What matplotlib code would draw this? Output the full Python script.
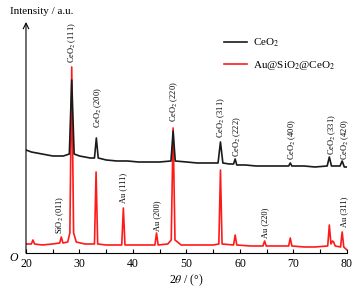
import matplotlib.pyplot as plt
from matplotlib.lines import Line2D

plt.rcParams['font.family'] = 'Liberation Serif'
plt.rcParams['mathtext.fontset'] = 'stix'

# CeO2 trace (offset upward)
ceo2_x = [20, 21, 22, 23, 24, 25, 26, 27, 28.1, 28.55, 29.0, 30, 31, 32, 32.8, 33.15, 33.5,
          35, 37, 39, 41, 43, 45, 47.1, 47.5, 47.9, 50, 52, 54, 55.9, 56.35, 56.8, 58,
          58.8, 59.1, 59.4, 61, 63, 65, 67, 69.1, 69.4, 69.7, 72, 74, 76.3, 76.7, 77.1,
          78.7, 79.1, 79.5, 80]
ceo2_y = [103, 101, 100, 99, 98, 97, 97, 97, 99, 173, 99, 97, 96, 95, 95, 115, 95,
          93, 92, 92, 91, 91, 91, 92, 122, 92, 91, 90, 90, 90, 111, 90, 89,
          89, 94, 88, 88, 87, 87, 87, 87, 90, 87, 87, 86, 87, 96, 87,
          87, 92, 86, 86]

# Au@SiO2@CeO2 trace
au_x = [20, 21.0, 21.3, 21.6, 23, 25, 26.3, 26.6, 26.9, 27.8, 28.2, 28.55, 28.9, 29.4, 31,
        32.8, 33.1, 33.4, 35, 37.9, 38.2, 38.5, 40, 42, 44.1, 44.4, 44.7, 46.5, 47.15,
        47.5, 47.85, 49, 52, 55, 56.05, 56.35, 56.65, 58.8, 59.1, 59.4, 62, 64.3, 64.6,
        64.9, 67, 69.1, 69.4, 69.7, 72, 74, 76.4, 76.7, 77.0, 77.3, 77.5, 77.8, 78.8,
        79.1, 79.4, 80]
au_y = [9, 9, 13, 9, 8, 9, 10, 16, 10, 11, 20, 186, 20, 11, 9,
        9, 81, 9, 8, 8, 45, 8, 8, 8, 8, 20, 8, 9, 13,
        125, 13, 8, 8, 8, 9, 83, 9, 8, 18, 8, 7, 7, 12,
        7, 7, 7, 15, 7, 6, 6, 7, 28, 9, 12, 11, 7, 6,
        21, 6, 3]

# peak labels
lab_text = ['CeO$_2$ (111)', 'CeO$_2$ (200)', 'CeO$_2$ (220)', 'CeO$_2$ (311)',
            'CeO$_2$ (222)', 'CeO$_2$ (400)', 'CeO$_2$ (331)', 'CeO$_2$ (420)',
            'SiO$_2$ (011)', 'Au (111)', 'Au (200)', 'Au (220)', 'Au (311)']
lab_x = [28.6, 33.5, 47.7, 56.4, 59.4, 69.7, 77.2, 79.6, 26.4, 38.1, 44.5, 64.7, 79.4]
lab_y = [190, 125, 131, 115, 96, 93, 98, 93, 19, 50, 22, 15, 26]

fig = plt.figure(figsize=(3.62, 2.96), dpi=100)
ax = fig.add_axes([0.0718, 0.1453, 0.8867, 0.7804])

ax.plot(au_x, au_y, color='#ff1a1a', lw=1.2)
ax.plot(ceo2_x, ceo2_y, color='#1a1a1a', lw=1.2)

for t, x, y in zip(lab_text, lab_x, lab_y):
    ax.text(x, y, t, rotation=90, ha='center', va='bottom', fontsize=6)

ax.set_xlim(20, 80)
ax.set_ylim(0, 231)
ax.spines['top'].set_visible(False)
ax.spines['right'].set_visible(False)
ax.spines['left'].set_visible(False)
ax.set_yticks([])
ax.set_xticks(range(20, 81, 10))
ax.set_xticks(range(25, 80, 10), minor=True)
ax.tick_params(axis='x', which='both', direction='in', length=3, labelsize=8.5, width=0.8)

# y axis drawn as an arrow
ax.annotate('', xy=(0, 1), xytext=(0, 0), xycoords='axes fraction',
            arrowprops=dict(arrowstyle='->', lw=0.8, color='black',
                            shrinkA=0, shrinkB=0))
ax.text(-0.05, 1.045, 'Intensity / a.u.', transform=ax.transAxes, fontsize=8, va='center')
ax.text(-0.025, -0.02, 'O', transform=ax.transAxes, fontsize=8.5, style='italic',
        ha='right', va='center')
ax.set_xlabel('2$\\theta$ / (°)', fontsize=8.5, labelpad=2)

handles = [Line2D([], [], color='#1a1a1a', lw=1.2),
           Line2D([], [], color='#ff1a1a', lw=1.2)]
ax.legend(handles, ['CeO$_2$', 'Au@SiO$_2$@CeO$_2$'], frameon=False, fontsize=8,
          loc='upper left', bbox_to_anchor=(0.6, 0.96), handlelength=2.1,
          handletextpad=0.5, labelspacing=0.9, borderpad=0)

fig.savefig('out.png', dpi=100)
